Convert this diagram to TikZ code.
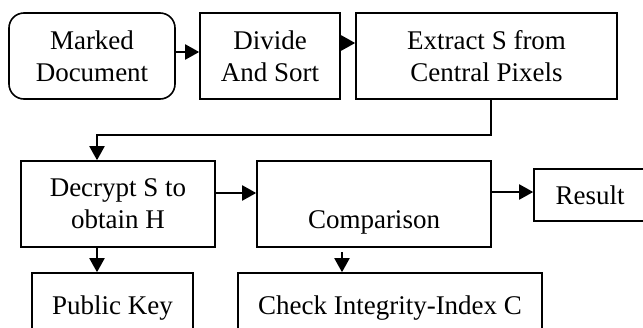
\documentclass[tikz,border=0pt]{standalone}
\usepackage{fontspec}
\setmainfont{Liberation Serif}
\usetikzlibrary{arrows.meta}
\tikzset{
  box/.style={draw, line width=1.6pt, rectangle, inner sep=0pt, align=center,
    font=\fontsize{27}{32}\selectfont},
  flow/.style={line width=2pt, -{Triangle[length=14pt,width=15pt]}},
}
\begin{document}
\begin{tikzpicture}[x=1pt,y=-1pt]
\useasboundingbox (0,0) rectangle (643,327);
% top row
\node[box, rounded corners=15pt, minimum width=166pt, minimum height=86pt] (mark) at (92,56) {Marked\\Document};
\node[box, minimum width=140pt, minimum height=86pt] (divide) at (270,56) {Divide\\And Sort};
\node[box, minimum width=261pt, minimum height=86pt] (extract) at (486.5,56) {Extract S from\\Central Pixels};
% middle row
\node[box, minimum width=194pt, minimum height=86pt] (decrypt) at (118,204) {Decrypt S to\\obtain H};
\node[box, minimum width=234pt, minimum height=86pt] (compare) at (374,204) {\strut\\Comparison};
\node[box, minimum width=112pt, minimum height=52pt] (result) at (590,195) {Result};
% bottom row
\node[box, minimum width=161pt, minimum height=70pt] (pubkey) at (112.5,308) {Public Key};
\node[box, minimum width=304pt, minimum height=70pt] (check) at (390,308) {Check Integrity-Index C};
% connectors
\coordinate (turnR) at (491,135);
\coordinate (turnL) at (97,135);
\coordinate (cmpout) at (342,252);
\draw[flow] ([yshift=4pt]mark.east) -- ([yshift=4pt]divide.west);
\draw[flow] ([yshift=13pt]divide.east) -- ([yshift=13pt]extract.west);
\draw[flow] (extract.south -| turnR) -- (turnR) -- (turnL) -- (decrypt.north -| turnL);
\draw[flow] ([yshift=11pt]decrypt.east) -- ([yshift=11pt]compare.west);
\draw[flow] ([yshift=12pt]compare.east) -- ([yshift=3pt]result.west);
\draw[flow] (decrypt.south -| turnL) -- (pubkey.north -| turnL);
\draw[flow] (cmpout) -- (check.north -| cmpout);
\end{tikzpicture}
\end{document}
